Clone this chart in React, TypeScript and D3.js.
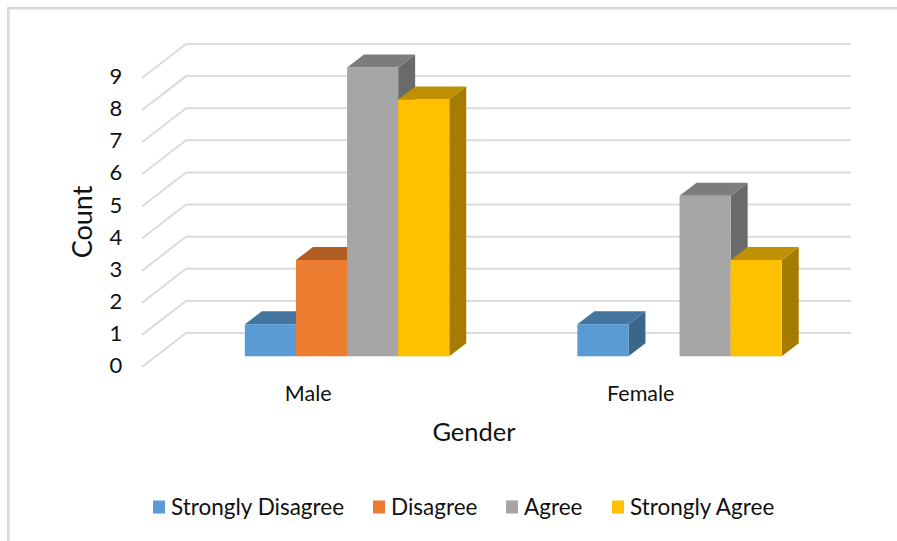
import React from "react";
import * as d3 from "d3";

const categories = ["Male", "Female"];
const seriesNames = ["Strongly Disagree", "Disagree", "Agree", "Strongly Agree"];
const stronglyDisagree = [1, 1];
const disagree = [3, 0];
const agree = [9, 5];
const stronglyAgree = [8, 3];
const seriesValues = [stronglyDisagree, disagree, agree, stronglyAgree];
const yTicks = [0, 1, 2, 3, 4, 5, 6, 7, 8, 9];
const frontColors = ["#5B9BD5", "#ED7D31", "#A5A5A5", "#FFC000"];
const topColors = ["#44759F", "#B15E24", "#7C7C7C", "#BF9000"];
const sideColors = ["#3A6689", "#A04F1B", "#6A6A6A", "#A67C00"];
const FONT = "Lato, 'Noto Sans', sans-serif";

const W = 897;
const H = 541;

export default function App() {
  // Front plane of the floor; the back wall is offset by (wallDx, wallDy).
  const wallDx = 44;
  const wallDy = -34;
  const x0 = d3.scaleBand<string>().domain(categories).range([142, 807]);
  const y = d3.scaleLinear().domain([0, 9]).range([367, 78]);
  const barY = d3.scaleLinear().domain([0, 9]).range([356.3, 67.4]);
  const barW = 51.1;
  const barShift = 38.8;
  const depthX = 17;
  const depthY = -13;
  const legendX = [153, 373, 506, 612];

  return (
    <svg
      width={W}
      height={H}
      style={{ position: "absolute", left: 0, top: 0 }}
      fontFamily={FONT}
    >
      <rect width={W} height={H} fill="#fff" />
      <path d="M8.3,541V8.3H897" fill="none" stroke="#D9D9D9" strokeWidth={2.6} />

      {yTicks.map((t) => (
        <polyline
          key={t}
          points={`142,${y(t)} ${142 + wallDx},${y(t) + wallDy} 851,${y(t) + wallDy}`}
          fill="none"
          stroke="#DCDCDC"
          strokeWidth={2}
        />
      ))}

      {yTicks.map((t) => (
        <text
          key={t}
          x={116}
          y={y(t) + 0.5}
          textAnchor="middle"
          dominantBaseline="middle"
          fontSize={22}
          fill="#111"
        >
          {t}
        </text>
      ))}

      {categories.map((c, ci) => {
        const left = x0(c)! + x0.bandwidth() / 2 + barShift - barW * 2;
        return (
          <g key={c}>
            {seriesValues.map((vals, si) => {
              const v = vals[ci];
              if (v === 0) return null;
              const bx = left + si * barW;
              const top = barY(v);
              const base = barY(0);
              return (
                <g key={si}>
                  <path
                    d={`M${bx + barW},${top}L${bx + barW + depthX},${top + depthY}V${base + depthY}L${bx + barW},${base}Z`}
                    fill={sideColors[si]}
                  />
                  <path
                    d={`M${bx},${top}L${bx + depthX},${top + depthY}H${bx + barW + depthX}L${bx + barW},${top}Z`}
                    fill={topColors[si]}
                  />
                  <rect x={bx} y={top} width={barW} height={base - top} fill={frontColors[si]} />
                </g>
              );
            })}
            <text
              x={x0(c)! + x0.bandwidth() / 2}
              y={396}
              textAnchor="middle"
              dominantBaseline="middle"
              fontSize={21.5}
              fill="#111"
            >
              {c}
            </text>
          </g>
        );
      })}

      <text x={474} y={435} textAnchor="middle" dominantBaseline="middle" fontSize={25.5} fill="#111">
        Gender
      </text>
      <text
        transform="translate(85,222) rotate(-90)"
        textAnchor="middle"
        dominantBaseline="middle"
        fontSize={27}
        fill="#111"
      >
        Count
      </text>

      {seriesNames.map((name, i) => (
        <g key={name}>
          <rect x={legendX[i]} y={500.5} width={12} height={13} fill={frontColors[i]} />
          <text
            x={legendX[i] + 18}
            y={509}
            dominantBaseline="middle"
            fontSize={22.5}
            fill="#111"
          >
            {name}
          </text>
        </g>
      ))}
    </svg>
  );
}
